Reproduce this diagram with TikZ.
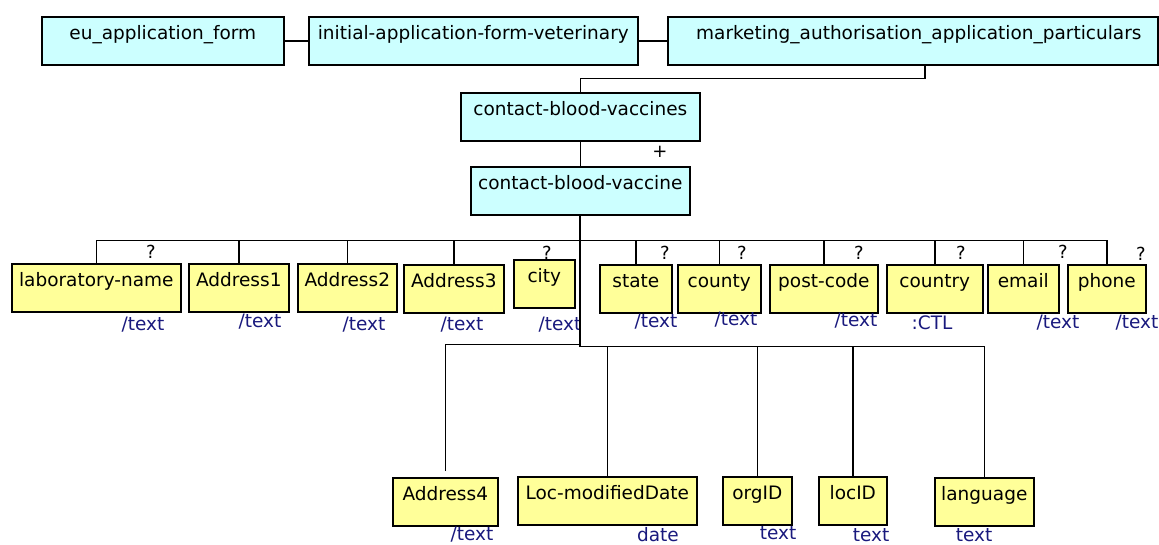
\documentclass[tikz,border=0pt]{standalone}
\usepackage{fontspec}
\setmainfont{DejaVu Sans}
\usepackage{tikz}

\definecolor{grpfill}{HTML}{CCFFFF}
\definecolor{leaffill}{HTML}{FFFF99}
\definecolor{typeblue}{RGB}{25,25,125}

\tikzset{
  box/.style={draw=black, line width=1.6pt, anchor=north west,
    inner xsep=2pt, inner ysep=3pt, text height=20pt, text depth=22pt,
    font=\fontsize{18.5}{21}\selectfont},
  grpbox/.style={box, fill=grpfill},
  leafbox/.style={box, fill=leaffill},
  conn/.style={line width=1.5pt},
  occur/.style={inner sep=0pt, font=\fontsize{18}{21}\selectfont},
  dtype/.style={inner sep=0pt, text=typeblue, font=\fontsize{18.5}{21}\selectfont},
}

\begin{document}
\begin{tikzpicture}[x=1pt,y=-1pt]
  \useasboundingbox (0,0) rectangle (1159,545);

  % parent chain
  \node[grpbox, minimum width=242] (euform) at (41,16) {eu\_application\_form};
  \node[grpbox, minimum width=329] (initform) at (308,16) {initial-application-form-veterinary};
  \node[grpbox, minimum width=490] (mktform) at (667,16) {\hspace{12pt}marketing\_authorisation\_application\_particulars};
  \node[grpbox, minimum width=239] (cbvs) at (460,92) {contact-blood-vaccines};
  \node[grpbox, minimum width=219] (cbv) at (470,166) {contact-blood-vaccine};
  \node[occur] (plus) at (660,152) {+};

  % first row of children
  \node[leafbox, minimum width=169] (labname) at (11,263) {laboratory-name};
  \node[leafbox, minimum width=100] (addr1) at (188,263) {Address1};
  \node[leafbox, minimum width=99] (addr2) at (297,263) {Address2};
  \node[leafbox, minimum width=100] (addr3) at (403,264) {Address3};
  \node[leafbox, minimum width=61] (city) at (513,259) {city};
  \node[leafbox, minimum width=72] (state) at (599,264) {state};
  \node[leafbox, minimum width=83] (county) at (677,264) {county};
  \node[leafbox, minimum width=108] (postcode) at (769,264) {post-code};
  \node[leafbox, minimum width=96] (country) at (886,264) {country};
  \node[leafbox, minimum width=71] (email) at (987,264) {email};
  \node[leafbox, minimum width=78] (phone) at (1067,264) {phone};

  % second row of children
  \node[leafbox, minimum width=105] (addr4) at (392,477) {Address4};
  \node[leafbox, minimum width=179] (locdate) at (517,476) {Loc-modifiedDate};
  \node[leafbox, minimum width=69] (orgid) at (722,476) {orgID};
  \node[leafbox, minimum width=68] (locid) at (818,476) {locID};
  \node[leafbox, minimum width=99] (lang) at (934,477) {language};

  % optional marks
  \foreach \x/\y/\n in {151/252/qlab,547/253/qcity,665/253/qstate,742/253/qcounty,
      859/253/qpost,961/253/qcountry,1063/252/qemail,1141/254/qphone}
    \node[occur] (\n) at (\x,\y) {?};

  % types
  \foreach \x/\y/\n/\t in {143/325/tlab/{/text},260/322/taddr1/{/text},364/325/taddr2/{/text},
      462/325/taddr3/{/text},560/325/tcity/{/text},656/322/tstate/{/text},736/320/tcounty/{/text},
      856/321/tpost/{/text},932/323/tcountry/:CTL,1058/323/temail/{/text},1137/323/tphone/{/text},
      472/535/taddr4/{/text},658/535/tdate/date,778/533/torg/text,871/535/tloc/text,974/535/tlang/text}
    \node[dtype] (\n) at (\x,\y) {\t};

  % connectors
  \draw[conn] (euform.east) -- (initform.west);
  \draw[conn] (initform.east) -- (mktform.west);
  \draw[conn] ([xshift=12pt]mktform.south) -- ++(0,13) -| (cbvs.north);
  \draw[conn] (cbvs.south) -- (cbv.north);
  \draw[conn, line width=2.2pt] (cbv.south) -- ++(0,25) coordinate (hub);
  \foreach \n in {labname,addr1,addr2,addr3,state,county,postcode,country,email,phone}
    \draw[conn] (\n.north) |- (hub);
  \draw[conn, line width=2.2pt] (hub) -- ++(0,106) coordinate (hub2);
  \foreach \n in {locdate,orgid,locid,lang}
    \draw[conn] (\n.north) |- (hub2);
  \draw[conn] ([yshift=6pt]addr4.north) |- ([yshift=2pt]hub2);
\end{tikzpicture}
\end{document}
